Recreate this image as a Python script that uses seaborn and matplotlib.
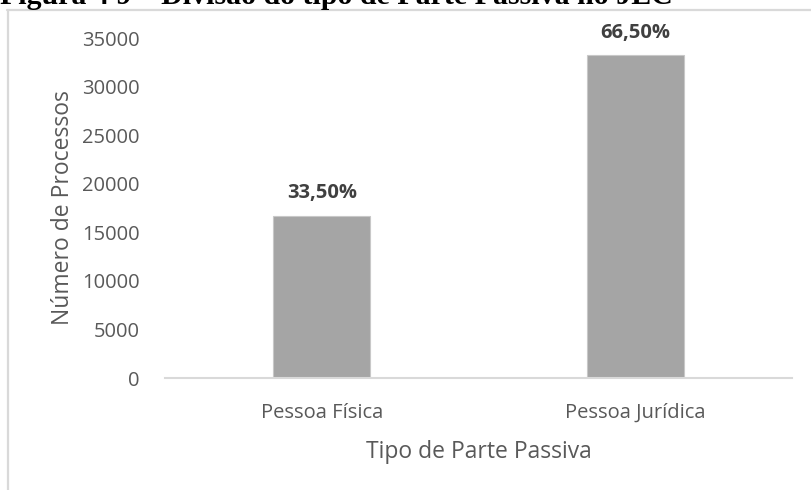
import matplotlib
matplotlib.use('Agg')
import matplotlib.pyplot as plt
import seaborn as sns
import pandas as pd
from matplotlib.lines import Line2D

# Data
categories = ['Pessoa Física', 'Pessoa Jurídica']
num_processos = [16700, 33200]
pct_labels = ['33,50%', '66,50%']
y_ticks = [0, 5000, 10000, 15000, 20000, 25000, 30000, 35000]

df = pd.DataFrame({'tipo': categories, 'processos': num_processos})

sns.set_theme(style='white')
plt.rcParams['font.family'] = ['Open Sans', 'DejaVu Sans']

text_color = '#595959'
grid_color = '#d9d9d9'

fig = plt.figure(figsize=(8.12, 4.9), dpi=100)
ax = fig.add_axes([165 / 812, 1 - 378 / 490, (792 - 165) / 812, (378 - 38) / 490])

sns.barplot(x='tipo', y='processos', data=df, color='#a5a5a5', width=0.31,
            edgecolor='#c8c8c8', linewidth=0.8, saturation=1, ax=ax)

# Percent labels above the bars
for bar, label in zip(ax.patches, pct_labels):
    ax.text(bar.get_x() + bar.get_width() / 2, bar.get_height() + 1300, label,
            ha='center', va='bottom', fontsize=14.5, fontweight='bold', color='#404040')

ax.set_ylim(0, 35000)
ax.set_xlim(-0.5, 1.5)
ax.set_yticks(y_ticks)
ax.set_yticklabels([str(t) for t in y_ticks])
ax.tick_params(axis='both', length=0, labelsize=14.5, labelcolor=text_color)
ax.tick_params(axis='y', pad=18)
ax.tick_params(axis='x', pad=18)

ax.set_ylabel('Número de Processos', fontsize=16.5, color=text_color, labelpad=5)
ax.set_xlabel('Tipo de Parte Passiva', fontsize=16.5, color=text_color, labelpad=12)

for side in ['top', 'right', 'left']:
    ax.spines[side].set_visible(False)
ax.spines['bottom'].set_color(grid_color)
ax.spines['bottom'].set_linewidth(1.5)

# Chart frame border (left and top)
fig.add_artist(Line2D([7.5 / 812, 7.5 / 812], [0, 1 - 10 / 490], color=grid_color, lw=1.6))
fig.add_artist(Line2D([7 / 812, 1], [1 - 10 / 490, 1 - 10 / 490], color=grid_color, lw=1.6))

# Caption above the chart, cut at the top edge
fig.text(0.0, 1 - 4 / 490, 'Figura 4 9 – Divisão do tipo de Parte Passiva no JEC',
         family=['Liberation Serif', 'DejaVu Serif'], fontweight='bold', fontsize=21.5,
         va='baseline', ha='left', color='black')

fig.savefig('out.png', dpi=100)
